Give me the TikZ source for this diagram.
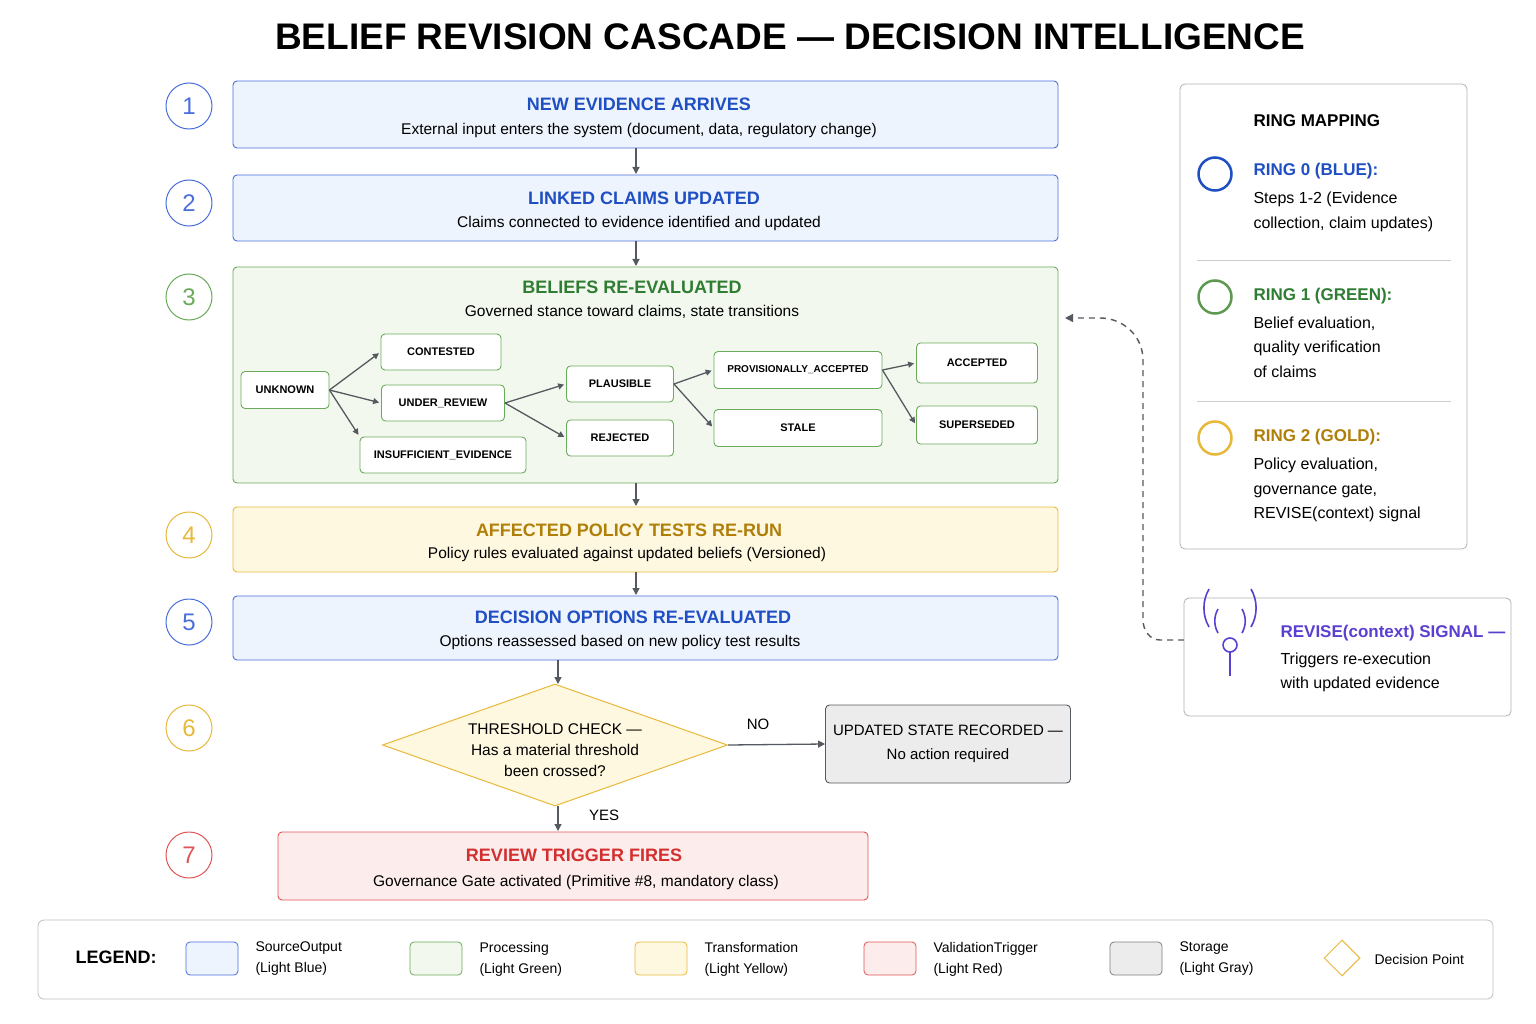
\documentclass[tikz,border=0pt]{standalone}
\usepackage{fontspec}
\setmainfont{Liberation Sans}
\usetikzlibrary{arrows.meta,shapes.geometric}
\definecolor{bB}{HTML}{4A6FDC}\definecolor{fB}{HTML}{EEF4FD}\definecolor{tB}{HTML}{1F4FC2}
\definecolor{bG}{HTML}{6AAA5A}\definecolor{fG}{HTML}{F3F8EF}\definecolor{tG}{HTML}{2E7D32}
\definecolor{bY}{HTML}{E8B83A}\definecolor{fY}{HTML}{FFF8E1}\definecolor{tY}{HTML}{B07F0A}
\definecolor{bR}{HTML}{E05555}\definecolor{fR}{HTML}{FDECEC}\definecolor{tR}{HTML}{D32F2F}
\definecolor{fK}{HTML}{ECECEC}\definecolor{ar}{HTML}{555A60}\definecolor{pu}{HTML}{5B3FD0}
\tikzset{
 box/.style={draw=#1,rounded corners=4pt,line width=0.9pt},
 ttl/.style={font=\fontsize{18}{20}\selectfont\bfseries,text=#1},
 sub/.style={font=\fontsize{15.5}{18}\selectfont},
 st/.style={draw=bG,fill=white,rounded corners=4pt,line width=0.9pt,font=\fontsize{11}{12}\selectfont\bfseries,inner sep=0pt},
 num/.style={circle,draw=#1,line width=1pt,minimum size=46pt,inner sep=0pt,font=\fontsize{24}{24}\selectfont,text=#1},
 arr/.style={draw=ar,line width=1.3pt,-{Triangle[length=7pt,width=7pt]}},
 rg/.style={circle,draw=#1,line width=2.5pt,minimum size=33pt,inner sep=0pt},
 lt/.style={font=\fontsize{14}{17}\selectfont,align=left,anchor=west},
}
\begin{document}
\begin{tikzpicture}[x=1pt,y=-1pt]
\useasboundingbox (0,0) rectangle (1536,1024);
\fill[white] (0,0) rectangle (1536,1024);
\node[font=\fontsize{37}{40}\selectfont\bfseries] (title) at (790,37) {BELIEF REVISION CASCADE — DECISION INTELLIGENCE};
% main boxes
\draw[box=bB,fill=fB] (233,81) rectangle (1058,148);
\node[ttl=tB] (t1) at (639,104) {NEW EVIDENCE ARRIVES};
\node[sub] (s1) at (639,130) {External input enters the system (document, data, regulatory change)};
\draw[box=bB,fill=fB] (233,175) rectangle (1058,241);
\node[ttl=tB] (t2) at (644,198) {LINKED CLAIMS UPDATED};
\node[sub] (s2) at (639,223) {Claims connected to evidence identified and updated};
\draw[box=bG,fill=fG] (233,267) rectangle (1058,483);
\node[ttl=tG] (t3) at (632,287) {BELIEFS RE-EVALUATED};
\node[sub] (s3) at (632,312) {Governed stance toward claims, state transitions};
\draw[box=bY,fill=fY] (233,507) rectangle (1058,572);
\node[ttl=tY] (t4) at (629,530) {AFFECTED POLICY TESTS RE-RUN};
\node[sub] (s4) at (627,554) {Policy rules evaluated against updated beliefs (Versioned)};
\draw[box=bB,fill=fB] (233,596) rectangle (1058,660);
\node[ttl=tB] (t5) at (633,617) {DECISION OPTIONS RE-EVALUATED};
\node[sub] (s5) at (620,642) {Options reassessed based on new policy test results};
\node[diamond,draw=bY,fill=fY,line width=1pt,minimum width=345pt,minimum height=122pt,aspect=2.83,inner sep=0pt] (d) at (555,745) {};
\node[font=\fontsize{15.5}{21}\selectfont,align=center] (dt) at (555,750) {THRESHOLD CHECK —\\Has a material threshold\\been crossed?};
\node[box=ar,fill=fK,minimum width=245pt,minimum height=78pt,font=\fontsize{15}{24}\selectfont,align=center] (u) at (948,744) {UPDATED STATE RECORDED —\\No action required};
\draw[box=bR,fill=fR] (278,832) rectangle (868,900);
\node[ttl=tR] (t7) at (574,855) {REVIEW TRIGGER FIRES};
\node[sub] (s7) at (576,882) {Governance Gate activated (Primitive \#8, mandatory class)};
% numbers
\node[num=bB] (n1) at (189,106) {1};
\node[num=bB] (n2) at (189,203) {2};
\node[num=bG] (n3) at (189,297) {3};
\node[num=bY] (n4) at (189,535) {4};
\node[num=bB] (n5) at (189,622) {5};
\node[num=bY] (n6) at (189,728) {6};
\node[num=bR] (n7) at (189,855) {7};
% flow arrows
\coordinate (a1) at (636,148); \coordinate (b1) at (636,174);
\coordinate (a2) at (636,241); \coordinate (b2) at (636,266);
\coordinate (a3) at (636,483); \coordinate (b3) at (636,506);
\coordinate (a4) at (636,572); \coordinate (b4) at (636,595);
\coordinate (a5) at (558,660); \coordinate (b5) at (558,684);
\coordinate (a6) at (558,806); \coordinate (b6) at (558,831);
\draw[arr] (a1)--(b1); \draw[arr] (a2)--(b2); \draw[arr] (a3)--(b3);
\draw[arr] (a4)--(b4); \draw[arr] (a5)--(b5); \draw[arr] (a6)--(b6);
\draw[arr] (d.east)--(u.west);
\node[font=\fontsize{15}{16}\selectfont] (no) at (758,724) {NO};
\node[font=\fontsize{15}{16}\selectfont] (yes) at (604,815) {YES};
% states
\node[st,minimum width=88pt,minimum height=37pt] (unk) at (285,390) {UNKNOWN};
\node[st,minimum width=120pt,minimum height=36pt] (con) at (441,352) {CONTESTED};
\node[st,minimum width=123pt,minimum height=36pt] (ur) at (443,403) {UNDER\_REVIEW};
\node[st,minimum width=166pt,minimum height=36pt] (ins) at (443,455) {INSUFFICIENT\_EVIDENCE};
\node[st,minimum width=107pt,minimum height=36pt] (pl) at (620,384) {PLAUSIBLE};
\node[st,minimum width=107pt,minimum height=36pt] (rej) at (620,438) {REJECTED};
\node[st,minimum width=168pt,minimum height=37pt,font=\fontsize{10}{12}\selectfont\bfseries] (pa) at (798,370) {PROVISIONALLY\_ACCEPTED};
\node[st,minimum width=168pt,minimum height=37pt] (sta) at (798,428) {STALE};
\node[st,minimum width=121pt,minimum height=40pt] (acc) at (977,363) {ACCEPTED};
\node[st,minimum width=121pt,minimum height=38pt] (sup) at (977,425) {SUPERSEDED};
\tikzset{sa/.style={draw=ar,line width=1.3pt,-{Triangle[length=6pt,width=6pt]},shorten >=2pt}}
\draw[sa] (unk.east)--(con.west);
\draw[sa] (unk.east)--(ur.west);
\draw[sa] (unk.east)--(ins.north west);
\draw[sa] (ur.east)--(pl.west);
\draw[sa] (ur.east)--(rej.west);
\draw[sa] (pl.east)--(pa.west);
\draw[sa] (pl.east)--(sta.west);
\draw[sa] (pa.east)--(acc.west);
\draw[sa] (pa.east)--(sup.west);
% ring mapping
\draw[draw=gray!60,rounded corners=5pt,line width=0.8pt] (1180,84) rectangle (1467,549);
\node[font=\fontsize{17}{20}\selectfont\bfseries,anchor=west] (rm) at (1250,121) {RING MAPPING};
\node[rg=tB] (r0) at (1215,174) {};
\node[rg=bG!90!black] (r1) at (1215,297) {};
\node[rg=bY] (r2) at (1215,438) {};
\node[lt,font=\fontsize{17}{20}\selectfont\bfseries,text=tB] (r0t) at (1250,171) {RING 0 (BLUE):};
\node[lt,font=\fontsize{16}{24.5}\selectfont] (r0s) at (1250,212) {Steps 1-2 (Evidence\\collection, claim updates)};
\draw[gray!40,line width=0.8pt] (1197,260)--(1451,260);
\node[lt,font=\fontsize{17}{20}\selectfont\bfseries,text=tG] (r1t) at (1250,296) {RING 1 (GREEN):};
\node[lt,font=\fontsize{16}{24.5}\selectfont] (r1s) at (1250,347) {Belief evaluation,\\quality verification\\of claims};
\draw[gray!40,line width=0.8pt] (1197,401)--(1451,401);
\node[lt,font=\fontsize{17}{20}\selectfont\bfseries,text=tY] (r2t) at (1250,437) {RING 2 (GOLD):};
\node[lt,font=\fontsize{16}{24.5}\selectfont] (r2s) at (1250,490) {Policy evaluation,\\governance gate,\\REVISE(context) signal};
% signal
\draw[draw=gray!60,rounded corners=5pt,line width=0.8pt] (1184,598) rectangle (1511,716);
\coordinate (sg) at (1184,640);
\coordinate (tgt) at (1065,318);
\draw[ar,line width=1.4pt,dash pattern=on 6pt off 5pt,-{Triangle[length=8pt,width=8pt]}] (sg) -- (1160,640) to[out=180,in=270] (1143,620) -- (1143,360) to[out=90,in=0] (1100,318) -- (tgt);
\begin{scope}[draw=pu,line width=1.6pt]
\draw (1230,645) circle (7pt);
\draw (1230,652)--(1230,676);
\draw (1218,633) arc (150:210:24);
\draw (1242,633) arc (30:-30:24);
\draw (1209,627) arc (150:210:38);
\draw (1251,627) arc (30:-30:38);
\end{scope}
\node[lt,font=\fontsize{17}{20}\selectfont\bfseries,text=pu] (sgt) at (1277,633) {REVISE(context) SIGNAL —};
\node[lt,font=\fontsize{16}{24}\selectfont] (sgs) at (1277,672) {Triggers re-execution\\with updated evidence};
% legend
\draw[draw=gray!50,rounded corners=6pt,line width=0.8pt] (38,920) rectangle (1493,999);
\node[lt,font=\fontsize{18}{20}\selectfont\bfseries] (lg) at (72,957) {LEGEND:};
\foreach \x/\bc/\fc/\a/\b [count=\i] in {186/bB/fB/Source\/Output/Light Blue,410/bG/fG/Processing/Light Green,635/bY/fY/Transformation/Light Yellow,864/bR/fR/Validation\/Trigger/Light Red,1110/gray/fK/Storage/Light Gray}{
 \draw[draw=\bc,fill=\fc,rounded corners=4pt,line width=0.8pt] (\x,942) rectangle (\x+52,975);
 \node[lt,font=\fontsize{14}{21}\selectfont] (lg\i) at (\x+66,959) {\a\\(\b)};
}
\node[diamond,draw=bY,line width=1pt,minimum size=36pt,inner sep=0pt] (ld) at (1342,958) {};
\node[lt,font=\fontsize{14}{17}\selectfont] (ldt) at (1371,959) {Decision Point};
\end{tikzpicture}
\end{document}
